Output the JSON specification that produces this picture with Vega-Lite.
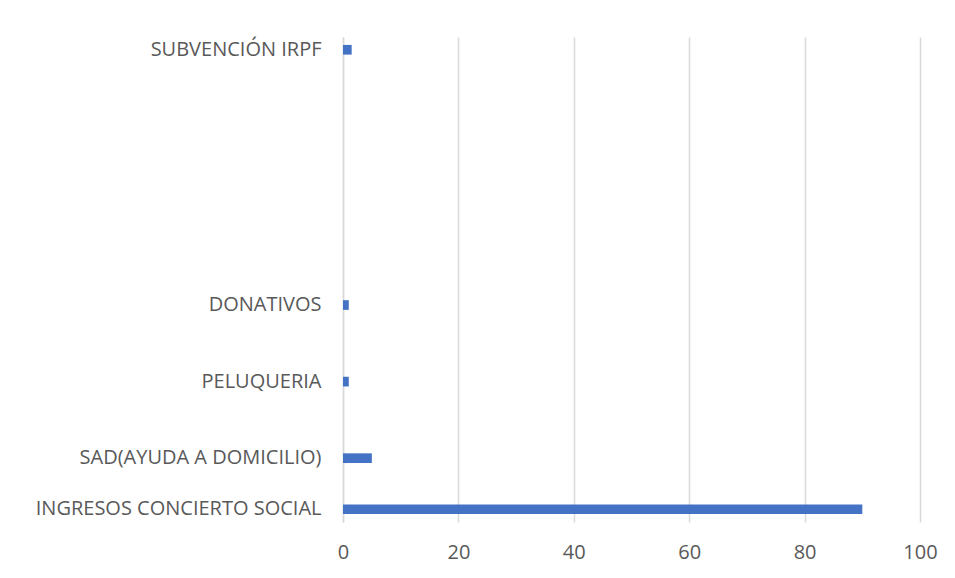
{
  "$schema": "https://vega.github.io/schema/vega-lite/v6.json",
  "autosize": {"type": "none"},
  "width": 577,
  "height": 485,
  "padding": {"left": 343, "top": 37, "right": 35, "bottom": 56},
  "background": "white",
  "config": {
    "view": {"stroke": null},
    "font": "Open Sans"
  },
  "data": {
    "values": [
      {"categoria": "SUBVENCIÓN IRPF", "valor": 1.5},
      {"categoria": "DONATIVOS", "valor": 1},
      {"categoria": "PELUQUERIA", "valor": 1},
      {"categoria": "SAD(AYUDA A DOMICILIO)", "valor": 5},
      {"categoria": "INGRESOS CONCIERTO SOCIAL", "valor": 90}
    ]
  },
  "mark": {"type": "bar", "color": "#4472C4"},
  "encoding": {
    "y": {
      "field": "categoria",
      "type": "nominal",
      "sort": null,
      "scale": {
        "domain": ["SUBVENCIÓN IRPF", "_17", "_16", "_15", "_14", "_13", "_12", "_11", "_10", "_9", "DONATIVOS", "_7", "_6", "PELUQUERIA", "_4", "_3", "SAD(AYUDA A DOMICILIO)", "_1", "INGRESOS CONCIERTO SOCIAL"],
        "paddingInner": 0.62,
        "paddingOuter": 0.31
      },
      "axis": {
        "title": null,
        "labelExpr": "indexof(datum.value, '_') === 0 ? '' : datum.value",
        "ticks": false,
        "domainColor": "#D9D9D9",
        "domainWidth": 1.5,
        "labelFontSize": 20,
        "labelColor": "#595959",
        "labelPadding": 22,
        "labelFont": "Open Sans",
        "labelLimit": 400
      }
    },
    "x": {
      "field": "valor",
      "type": "quantitative",
      "scale": {"domain": [0, 100], "nice": false},
      "axis": {
        "title": null,
        "values": [0, 20, 40, 60, 80, 100],
        "domain": false,
        "ticks": false,
        "grid": true,
        "gridColor": "#D9D9D9",
        "gridWidth": 1.5,
        "labelFontSize": 20,
        "labelColor": "#595959",
        "labelPadding": 20,
        "labelFont": "Open Sans",
        "labelFlush": false
      }
    }
  }
}
